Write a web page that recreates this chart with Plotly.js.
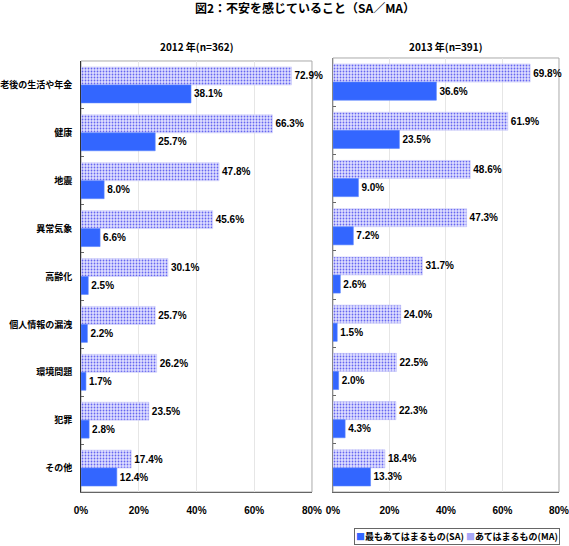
<!DOCTYPE html>
<html>
<head>
<meta charset="utf-8">
<script src="https://cdn.plot.ly/plotly-3.0.1.min.js"></script>
<style>html,body{margin:0;padding:0;background:#fff;}#chart{width:569px;height:546px;}</style>
</head>
<body>
<div id="chart"></div>
<script>
const categories = ["老後の生活や年金", "健康", "地震", "異常気象", "高齢化", "個人情報の漏洩", "環境問題", "犯罪", "その他"];
const ma2012 = [72.9, 66.3, 47.8, 45.6, 30.1, 25.7, 26.2, 23.5, 17.4];
const sa2012 = [38.1, 25.7, 8.0, 6.6, 2.5, 2.2, 1.7, 2.8, 12.4];
const ma2013 = [69.8, 61.9, 48.6, 47.3, 31.7, 24.0, 22.5, 22.3, 18.4];
const sa2013 = [36.6, 23.5, 9.0, 7.2, 2.6, 1.5, 2.0, 4.3, 13.3];
const xTicks = [0, 20, 40, 60, 80];
const seriesNames = ["最もあてはまるもの(SA)", "あてはまるもの(MA)"];
const chartTitle = "図2：不安を感じていること（SA／MA）";
const panelTitles = ["2012 年(n=362)", "2013 年(n=391)"];

const FONT = "Liberation Sans, Arial, Noto Sans CJK JP, sans-serif";
const CJK = "Noto Sans CJK JP, sans-serif";
const SA_COLOR = "#3366FF";
const maMarker = {
  color: "#e2e2ff",
  line: {color: "#c8c8f8", width: 0.6},
  pattern: {shape: ".", fgcolor: "#6262f0", bgcolor: "#e0e0ff", size: 3, solidity: 0.27}
};
const textFont = {family: FONT, size: 10, color: "#000", weight: "bold"};

function maTrace(vals, xa, ya) {
  return {type: "bar", orientation: "h", name: seriesNames[1], y: categories, x: vals,
    xaxis: xa, yaxis: ya, marker: maMarker, text: vals.map(v => v.toFixed(1) + "%"),
    textposition: "outside", cliponaxis: false, textfont: textFont, showlegend: false, hoverinfo: "x+y"};
}
function saTrace(vals, xa, ya) {
  return {type: "bar", orientation: "h", name: seriesNames[0], y: categories, x: vals,
    xaxis: xa, yaxis: ya, marker: {color: SA_COLOR, line: {color: "#5a84ff", width: 0.6}},
    text: vals.map(v => v.toFixed(1) + "%"),
    textposition: "outside", cliponaxis: false, textfont: textFont, showlegend: false, hoverinfo: "x+y"};
}

const data = [
  maTrace(ma2012, "x", "y"), saTrace(sa2012, "x", "y"),
  maTrace(ma2013, "x2", "y2"), saTrace(sa2013, "x2", "y2")
];

function xaxis(domain, anchor) {
  return {domain: domain, anchor: anchor, range: [0, 80], tickvals: xTicks, ticktext: xTicks.map(v => v + "%"),
    showgrid: true, gridcolor: "#e6e6e6", gridwidth: 1, zeroline: false,
    showline: true, linecolor: "#666", linewidth: 1, ticks: "", ticklabelstandoff: 9,
    ticklabeloverflow: "allow",
    tickfont: {family: FONT, size: 10, color: "#000", weight: "bold"}, fixedrange: true};
}
function yaxis(domain, anchor, showLabels, lineColor) {
  return {domain: domain, anchor: anchor, type: "category", autorange: "reversed",
    showline: true, linecolor: lineColor, linewidth: 1, showgrid: false, zeroline: false,
    ticks: "inside", ticklen: 3, tickcolor: "#666", tickson: "boundaries",
    showticklabels: showLabels, ticklabelstandoff: 6,
    tickfont: {family: CJK, size: 9, color: "#000", weight: "bold"}, fixedrange: true};
}

const layout = {
  width: 569, height: 546,
  margin: {l: 0, r: 0, t: 0, b: 0},
  paper_bgcolor: "#fff", plot_bgcolor: "#fff",
  font: {family: FONT, color: "#000"},
  showlegend: false,
  barmode: "group", bargap: 0.25, bargroupgap: 0,
  title: {text: chartTitle, x: 0.536, xanchor: "center", y: 0.992, yanchor: "top",
    font: {family: CJK, size: 12, weight: "bold", color: "#000"}},
  xaxis: xaxis([0.1424, 0.5483], "y"),
  yaxis: yaxis([0.0989, 0.8883], "x", true, "#333"),
  xaxis2: xaxis([0.5852, 0.9824], "y2"),
  yaxis2: yaxis([0.0989, 0.8938], "x2", false, "#888"),
  shapes: [
    {type: "rect", xref: "x domain", yref: "y domain", x0: 0, x1: 1, y0: 0, y1: 1, line: {color: "#aaa", width: 1}, layer: "below"},
    {type: "rect", xref: "x2 domain", yref: "y2 domain", x0: 0, x1: 1, y0: 0, y1: 1, line: {color: "#aaa", width: 1}, layer: "below"}
  ],
  annotations: [
    {text: panelTitles[0], xref: "x domain", yref: "paper", x: 0.5, y: 1 - 46/546, xanchor: "center", yanchor: "middle",
      showarrow: false, font: {family: CJK, size: 10, weight: "bold", color: "#000"}},
    {text: panelTitles[1], xref: "x2 domain", yref: "paper", x: 0.5, y: 1 - 46/546, xanchor: "center", yanchor: "middle",
      showarrow: false, font: {family: CJK, size: 10, weight: "bold", color: "#000"}},
    {text: '<span style="color:' + SA_COLOR + '">■</span>' + seriesNames[0] + ' <span style="color:#a8a8f6">■</span>' + seriesNames[1],
      xref: "paper", yref: "paper", x: 560/569, y: 1 - 536/546, xanchor: "right", yanchor: "middle",
      showarrow: false, bordercolor: "#666", borderwidth: 1, borderpad: 1, bgcolor: "#fff",
      font: {family: CJK, size: 9, weight: "bold", color: "#000"}}
  ]
};

Plotly.newPlot("chart", data, layout, {displayModeBar: false, staticPlot: true});
</script>
</body>
</html>
